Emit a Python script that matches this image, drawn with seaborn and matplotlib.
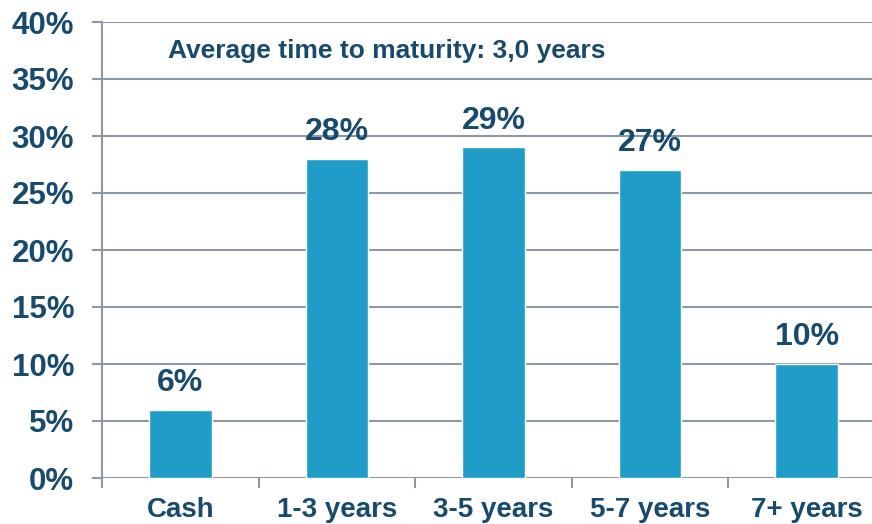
import pandas as pd
import matplotlib.pyplot as plt
import seaborn as sns
import numpy as np
from matplotlib.ticker import FixedLocator, FuncFormatter

# data
categories = ['Cash', '1-3 years', '3-5 years', '5-7 years', '7+ years']
shares = [6, 28, 29, 27, 10]
note = 'Average time to maturity: 3,0 years'

bar_color = '#1F9DC8'
text_color = '#184A6E'
grid_color = '#8E98A3'

sns.set_style('white')
plt.rcParams['font.family'] = ['Liberation Sans', 'DejaVu Sans']

df = pd.DataFrame({'category': categories, 'share': shares})

fig = plt.figure(figsize=(8.72, 5.24), dpi=100)
ax = fig.add_axes([102 / 872, 46 / 524, 783 / 872, 456 / 524])

sns.barplot(data=df, x='category', y='share', color=bar_color, width=0.4,
            saturation=1, ax=ax, zorder=3)

# labels above bars
for c in ax.containers:
    ax.bar_label(c, labels=[f'{v}%' for v in shares], padding=8.5,
                 fontsize=23, fontweight='bold', color=text_color, zorder=4)

ax.set_ylim(0, 40)
ax.set_xlim(-0.5, len(categories) - 0.5)
ax.set_yticks(np.arange(0, 41, 5))
ax.yaxis.set_major_formatter(FuncFormatter(lambda v, p: f'{v:.0f}%'))
ax.yaxis.grid(True, color=grid_color, linewidth=1.5, zorder=0)
ax.set_axisbelow(True)

# category boundaries as minor ticks
ax.xaxis.set_minor_locator(FixedLocator(np.arange(-0.5, len(categories), 1.0)))
ax.tick_params(axis='x', which='major', length=0, pad=14)
ax.tick_params(axis='x', which='minor', length=7, width=1.5, color=grid_color, direction='out', bottom=True)
ax.tick_params(axis='y', length=7, width=1.5, color=grid_color, direction='out', left=True, pad=13)

for lab in ax.get_xticklabels():
    lab.set_fontsize(20)
    lab.set_fontweight('bold')
    lab.set_color(text_color)
for lab in ax.get_yticklabels():
    lab.set_fontsize(22.5)
    lab.set_fontweight('bold')
    lab.set_color(text_color)

for s in ['top', 'right', 'bottom']:
    ax.spines[s].set_visible(False)
ax.spines['left'].set_color(grid_color)
ax.spines['left'].set_linewidth(1.5)

ax.set_xlabel('')
ax.set_ylabel('')

ax.text(0.084, 0.937, note, transform=ax.transAxes, ha='left', va='center',
        fontsize=19, fontweight='bold', color=text_color)

fig.savefig('out.png', dpi=100)
